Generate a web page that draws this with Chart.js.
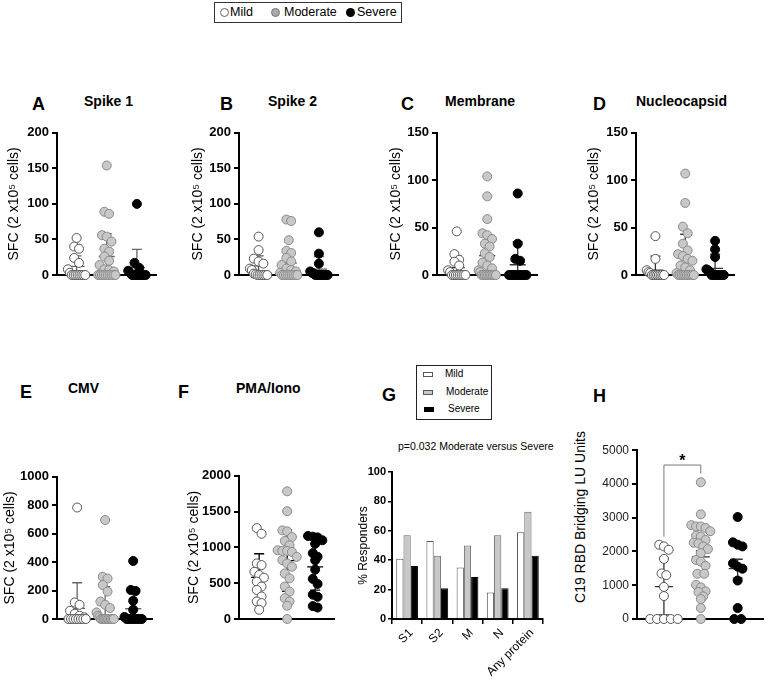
<!DOCTYPE html>
<html><head><meta charset="utf-8">
<script src="https://cdn.jsdelivr.net/npm/chart.js@4.4.1/dist/chart.umd.min.js"></script>
<style>
html,body{margin:0;padding:0;background:#fff;}
body{width:769px;height:683px;position:relative;overflow:hidden;font-family:"Liberation Sans",Arial,sans-serif;color:#000;}
canvas{position:absolute;}
.lt{position:absolute;font-weight:bold;font-size:18px;line-height:1;white-space:nowrap;}
.tt{position:absolute;font-weight:bold;font-size:14px;line-height:1;white-space:nowrap;}
.abs{position:absolute;white-space:nowrap;line-height:1;}
.dot{position:absolute;width:9px;height:9px;border-radius:50%;box-sizing:border-box;}
.sw{position:absolute;width:10px;height:5px;box-sizing:border-box;}
</style></head><body>

<div class="abs" style="left:214px;top:2px;width:188px;height:21px;border:1px solid #333;box-sizing:border-box;"></div>
<div class="dot" style="left:220px;top:8px;border:1px solid #666;background:#fff;"></div>
<div class="abs" style="left:230px;top:6px;font-size:12.5px;">Mild</div>
<div class="dot" style="left:271px;top:8px;border:1px solid #777;background:#a9a9a9;"></div>
<div class="abs" style="left:284px;top:6px;font-size:12.5px;">Moderate</div>
<div class="dot" style="left:346px;top:8px;background:#000;"></div>
<div class="abs" style="left:357px;top:6px;font-size:12.5px;">Severe</div>

<div class="lt" style="left:32px;top:95px;">A</div><div class="tt" style="left:84px;top:94px;">Spike 1</div>
<div class="lt" style="left:220px;top:95px;">B</div><div class="tt" style="left:268px;top:94px;">Spike 2</div>
<div class="lt" style="left:401px;top:95px;">C</div><div class="tt" style="left:445px;top:94px;">Membrane</div>
<div class="lt" style="left:593px;top:95px;">D</div><div class="tt" style="left:636px;top:94px;">Nucleocapsid</div>
<div class="lt" style="left:20px;top:383px;">E</div><div class="tt" style="left:68px;top:381px;">CMV</div>
<div class="lt" style="left:178px;top:383px;">F</div><div class="tt" style="left:236px;top:381px;">PMA/Iono</div>
<div class="lt" style="left:382px;top:386px;">G</div>
<div class="lt" style="left:593px;top:387px;">H</div>

<div class="abs" style="left:416px;top:365px;width:76px;height:55px;border:1px solid #222;box-sizing:border-box;"></div>
<div class="sw" style="left:423px;top:372px;border:1px solid #555;background:#fff;"></div>
<div class="abs" style="left:445px;top:369px;font-size:10px;">Mild</div>
<div class="sw" style="left:423px;top:390px;border:1px solid #555;background:#c8c8c8;"></div>
<div class="abs" style="left:446px;top:387px;font-size:10px;">Moderate</div>
<div class="sw" style="left:424px;top:407px;background:#000;"></div>
<div class="abs" style="left:448px;top:404px;font-size:10px;">Severe</div>
<div class="abs" style="left:398px;top:441px;font-size:10.5px;">p=0.032 Moderate versus Severe</div>

<div class="abs" style="left:573px;top:517px;font-size:14px;transform:translate(-50%,-50%) rotate(-90deg);transform-origin:center;margin-left:7px;">C19 RBD Bridging LU Units</div>

<script>
// ---------- DATA ----------
const groupNames = ['Mild', 'Moderate', 'Severe'];

// A  Spike 1
const spike1Mild = [52, 40, 37, 24, 17, 8, 3, 0, 0, 0, 0, 0, 0, 0, 0];
const spike1Moderate = [154, 89, 86, 56, 54, 47, 37, 33, 26, 20, 14, 8, 7, 5, 0, 0, 0, 0, 0, 0, 0, 0, 0, 0];
const spike1Severe = [100, 17, 10, 6, 3, 0, 0, 0, 0, 0, 0, 0, 0];
const spike1Mean = [12, 26, 10.5];
const spike1Hi = [27, 58, 36];
const spike1Lo = [0, 0, 0];

// B  Spike 2
const spike2Mild = [54, 35, 23, 19, 16, 9, 7, 2, 1, 0, 0, 0, 0, 0, 0];
const spike2Moderate = [78, 76, 49, 34, 31, 24, 19, 14, 9, 7, 5, 3, 0, 0, 0, 0, 0, 0, 0, 0, 0];
const spike2Severe = [60, 30, 16, 5, 3, 2, 0, 0, 0, 0, 0, 0, 0, 0];
const spike2Mean = [12.7, 16.6, 8.3];
const spike2Hi = [27, 35, 26];
const spike2Lo = [0, 0, 0];

// C  Membrane
const membraneMild = [46, 22, 16, 14, 10, 5, 3, 0, 0, 0, 0, 0, 0, 0, 0];
const membraneModerate = [104, 83, 59, 44, 42, 38, 33, 30, 23, 19, 13, 10, 7, 5, 3, 0, 0, 0, 0, 0, 0, 0, 0, 0, 0];
const membraneSevere = [86, 33, 17, 15, 0, 0, 0, 0, 0, 0, 0, 0, 0, 0];
const membraneMean = [7.7, 20.5, 10.8];
const membraneHi = [20, 42, 35];
const membraneLo = [0, 0, 0];

// D  Nucleocapsid
const nucleoMild = [41, 17, 5, 3, 2, 0, 0, 0, 0, 0, 0, 0, 0];
const nucleoModerate = [107, 76, 51, 44, 33, 26, 22, 20, 17, 15, 10, 8, 5, 2, 0, 0, 0, 0, 0, 0, 0, 0, 0, 0];
const nucleoSevere = [36, 27, 19, 6, 5, 3, 0, 0, 0, 0, 0, 0, 0, 0];
const nucleoMean = [5, 18, 7];
const nucleoHi = [20, 43, 22];
const nucleoLo = [0, 0, 0];

// E  CMV
const cmvMild = [784, 116, 100, 58, 37, 23, 12, 0, 0, 0, 0, 0, 0, 0, 0];
const cmvModerate = [696, 297, 285, 239, 193, 123, 100, 77, 46, 23, 12, 0, 0, 0, 0, 0, 0, 0, 0, 0, 0];
const cmvSevere = [408, 204, 197, 128, 65, 14, 0, 0, 0, 0, 0, 0, 0, 0];
const cmvMean = [75, 99, 72];
const cmvHi = [255, 227, 192];
const cmvLo = [0, 0, 0];

// F  PMA/Iono
const pmaMild = [1270, 1190, 776, 753, 660, 614, 577, 522, 453, 406, 314, 245, 222, 129];
const pmaModerate = [1783, 1506, 1238, 1224, 1145, 1090, 1030, 960, 951, 951, 937, 868, 822, 776, 730, 637, 568, 453, 383, 291, 245, 185, 0];
const pmaSevere = [1160, 1150, 1140, 1100, 1050, 920, 870, 820, 690, 560, 490, 340, 310, 180, 160];
const pmaMean = [581, 816, 729];
const pmaHi = [911, 1246, 1053];
const pmaLo = [251, 386, 404];

// G  % responders
const respLabels = ['S1', 'S2', 'M', 'N', 'Any protein'];
const respMild = [41, 53, 35, 18, 59];
const respModerate = [57, 43, 50, 57, 73];
const respSevere = [36, 21, 28.5, 21, 43];

// H  C19 RBD bridging
const rbdMild = [2200, 2150, 2050, 1780, 1350, 1300, 950, 680, 0, 0, 0, 0, 0];
const rbdModerate = [4050, 3100, 2780, 2740, 2740, 2700, 2600, 2470, 2440, 2340, 2260, 2240, 2150, 2070, 1950, 1750, 1700, 1575, 1340, 1340, 1010, 935, 820, 800, 670, 590, 325, 0];
const rbdSevere = [3020, 2270, 2200, 2150, 1650, 1550, 1490, 1140, 325, 0, 0];
const rbdMean = [958, 1839, 1490];
const rbdHi = [1800, 2020, 1770];
const rbdLo = [120, 1660, 1210];
const sigFrom = [1], sigTo = [2], sigTop = [4560], sigLeftEnd = [2440], sigRightEnd = [4310], sigText = ['*'];

// ---------- RENDERING ----------
Chart.defaults.font.family = '"Liberation Sans", Arial, sans-serif';
Chart.defaults.color = '#000';

function swarm(vals, pxPerY, pxPerX, r, maxW) {
  const order = vals.map((v, i) => i).sort((a, b) => vals[b] - vals[a]);
  const off = vals.map(() => 0);
  const clusters = [];
  let cur = [];
  for (const i of order) {
    if (cur.length && (vals[cur[0]] - vals[i]) * pxPerY > r * 1.5) { clusters.push(cur); cur = []; }
    cur.push(i);
  }
  if (cur.length) clusters.push(cur);
  for (const c of clusters) {
    const n = c.length;
    if (n < 2) continue;
    const spread = (vals[c[0]] - vals[c[n - 1]]) * pxPerY;
    const w = Math.min((n - 1) * r * (spread > 1 ? 1.1 : 1.6), maxW);
    c.forEach((i, k) => { off[i] = (-w / 2 + k * w / (n - 1)) / pxPerX; });
  }
  return off;
}

function mkCanvas(left, top, w, h) {
  const c = document.createElement('canvas');
  c.width = w; c.height = h;
  c.style.left = left + 'px'; c.style.top = top + 'px';
  c.style.width = w + 'px'; c.style.height = h + 'px';
  document.body.appendChild(c);
  return c;
}

const pointStyles = [
  {bg: '#ffffff', bd: '#555555'},
  {bg: '#c8c8c8', bd: '#8a8a8a'},
  {bg: '#000000', bd: '#000000'}
];

function errPlugin(mean, lo, hi, color, meanW, capW) {
  return {
    id: 'errbars',
    beforeDatasetsDraw(chart) {
      const {ctx, scales: {x, y}} = chart;
      ctx.save();
      ctx.strokeStyle = color; ctx.lineWidth = 1.3;
      for (let i = 0; i < mean.length; i++) {
        const px = x.getPixelForValue(i + 1);
        const pm = y.getPixelForValue(mean[i]);
        const ph = y.getPixelForValue(hi[i]);
        const pl = y.getPixelForValue(lo[i]);
        ctx.beginPath();
        ctx.moveTo(px, pl); ctx.lineTo(px, ph);
        ctx.moveTo(px - capW / 2, ph); ctx.lineTo(px + capW / 2, ph);
        if (lo[i] > 0) { ctx.moveTo(px - capW / 2, pl); ctx.lineTo(px + capW / 2, pl); }
        ctx.moveTo(px - meanW / 2, pm); ctx.lineTo(px + meanW / 2, pm);
        ctx.stroke();
      }
      ctx.restore();
    }
  };
}

const plainTick = v => String(v);

function dotPanel(cfg) {
  const cv = mkCanvas(cfg.left, cfg.top, cfg.w, cfg.h);
  const plotH = cfg.h - cfg.padTop - cfg.padBottom;
  const plotW = cfg.w - cfg.axisW - cfg.padRight;
  const pxPerY = plotH / cfg.yMax;
  const pxPerX = plotW / (cfg.xMax - cfg.xMin);
  const r = 4.5;
  const datasets = cfg.series.map((vals, g) => {
    const off = swarm(vals, pxPerY, pxPerX, r, cfg.maxW);
    return {
      label: groupNames[g],
      data: vals.map((v, i) => ({x: g + 1 + off[i], y: v})),
      pointRadius: r,
      pointBackgroundColor: pointStyles[g].bg,
      pointBorderColor: pointStyles[g].bd,
      pointBorderWidth: 1,
      clip: false
    };
  });
  const plugins = [errPlugin(cfg.mean, cfg.lo, cfg.hi, cfg.errColor, cfg.meanW || 16, cfg.capW || 10)];
  if (cfg.extra) plugins.push(cfg.extra);
  return new Chart(cv, {
    type: 'scatter',
    data: {datasets},
    plugins,
    options: {
      responsive: false, animation: false, devicePixelRatio: 1, events: [],
      layout: {padding: {top: cfg.padTop, right: cfg.padRight, bottom: cfg.padBottom, left: 0}},
      plugins: {legend: {display: false}, tooltip: {enabled: false}},
      scales: {
        x: {
          type: 'linear', min: cfg.xMin, max: cfg.xMax,
          ticks: {display: false},
          grid: {display: false},
          border: {display: true, color: '#000', width: 2},
          afterFit: s => { s.height = 0; }
        },
        y: {
          min: 0, max: cfg.yMax,
          ticks: {stepSize: cfg.step, font: cfg.tickFont, color: cfg.tickColor || '#000', padding: 3, callback: plainTick},
          grid: {display: true, drawOnChartArea: false, drawTicks: true, tickLength: 5, color: '#000', lineWidth: 2},
          border: {display: true, color: '#000', width: 2},
          title: cfg.yTitle ? {display: true, text: cfg.yTitle, font: {size: 14}, color: '#000', padding: {top: cfg.titlePad, bottom: 0}} : {display: false},
          afterFit: s => { s.width = cfg.axisW; }
        }
      }
    }
  });
}

const sfcTitle = 'SFC (2 x10\u2075 cells)';
const boldTick = {size: 13, weight: 'bold'};

dotPanel({left: 0, top: 122, w: 162, h: 165, axisW: 57, padTop: 10, padRight: 2, padBottom: 12,
  yMax: 200, step: 50, xMin: 0.35, xMax: 3.65, series: [spike1Mild, spike1Moderate, spike1Severe],
  mean: spike1Mean, hi: spike1Hi, lo: spike1Lo, errColor: '#666', maxW: 18,
  yTitle: sfcTitle, titlePad: 6, tickFont: boldTick});
dotPanel({left: 184, top: 122, w: 160, h: 165, axisW: 55, padTop: 10, padRight: 2, padBottom: 12,
  yMax: 200, step: 50, xMin: 0.35, xMax: 3.65, series: [spike2Mild, spike2Moderate, spike2Severe],
  mean: spike2Mean, hi: spike2Hi, lo: spike2Lo, errColor: '#555', maxW: 18,
  yTitle: sfcTitle, titlePad: 6, tickFont: boldTick});
dotPanel({left: 382, top: 122, w: 161, h: 165, axisW: 55, padTop: 10, padRight: 2, padBottom: 12,
  yMax: 150, step: 50, xMin: 0.35, xMax: 3.65, series: [membraneMild, membraneModerate, membraneSevere],
  mean: membraneMean, hi: membraneHi, lo: membraneLo, errColor: '#333', maxW: 18,
  yTitle: sfcTitle, titlePad: 6, tickFont: boldTick});
dotPanel({left: 580, top: 122, w: 160, h: 165, axisW: 56, padTop: 10, padRight: 2, padBottom: 12,
  yMax: 150, step: 50, xMin: 0.35, xMax: 3.65, series: [nucleoMild, nucleoModerate, nucleoSevere],
  mean: nucleoMean, hi: nucleoHi, lo: nucleoLo, errColor: '#333', maxW: 18,
  yTitle: sfcTitle, titlePad: 6, tickFont: boldTick});
dotPanel({left: 0, top: 466, w: 158, h: 165, axisW: 57, padTop: 10, padRight: 2, padBottom: 12,
  yMax: 1000, step: 200, xMin: 0.28, xMax: 3.69, series: [cmvMild, cmvModerate, cmvSevere],
  mean: cmvMean, hi: cmvHi, lo: cmvLo, errColor: '#666', maxW: 18,
  yTitle: sfcTitle, titlePad: 2, tickFont: boldTick});
dotPanel({left: 181, top: 465, w: 159, h: 166, axisW: 58, padTop: 10, padRight: 2, padBottom: 12,
  yMax: 2000, step: 500, xMin: 0.28, xMax: 3.69, series: [pmaMild, pmaModerate, pmaSevere],
  mean: pmaMean, hi: pmaHi, lo: pmaLo, errColor: '#000', maxW: 22,
  yTitle: sfcTitle, titlePad: 5, tickFont: boldTick});

// H with significance bracket
const bracketPlugin = {
  id: 'bracket',
  afterDatasetsDraw(chart) {
    const {ctx, scales: {x, y}} = chart;
    ctx.save();
    ctx.strokeStyle = '#777'; ctx.lineWidth = 1;
    for (let i = 0; i < sigFrom.length; i++) {
      const x1 = x.getPixelForValue(sigFrom[i]), x2 = x.getPixelForValue(sigTo[i]);
      const yt = y.getPixelForValue(sigTop[i]);
      ctx.beginPath();
      ctx.moveTo(x1, y.getPixelForValue(sigLeftEnd[i]));
      ctx.lineTo(x1, yt); ctx.lineTo(x2, yt);
      ctx.lineTo(x2, y.getPixelForValue(sigRightEnd[i]));
      ctx.stroke();
      ctx.fillStyle = '#000';
      ctx.font = 'bold 16px "Liberation Sans", Arial, sans-serif';
      ctx.textAlign = 'center'; ctx.textBaseline = 'alphabetic';
      ctx.fillText(sigText[i], (x1 + x2) / 2, yt + 1);
    }
    ctx.restore();
  }
};
dotPanel({left: 566, top: 440, w: 203, h: 191, axisW: 71, padTop: 10, padRight: 0, padBottom: 12,
  yMax: 5000, step: 1000, xMin: 0.27, xMax: 3.7, series: [rbdMild, rbdModerate, rbdSevere],
  mean: rbdMean, hi: rbdHi, lo: rbdLo, errColor: '#333', maxW: 30, meanW: 18,
  yTitle: null, titlePad: 0, tickFont: {size: 12}, tickColor: '#222', extra: bracketPlugin});

// G bar chart – rotated category labels drawn at the scale's tick positions
const rotatedLabels = {
  id: 'rotLabels',
  afterDraw(chart) {
    const {ctx, scales: {x}} = chart;
    const labels = chart.data.labels;
    ctx.save();
    ctx.fillStyle = '#000';
    ctx.font = '12px "Liberation Sans", Arial, sans-serif';
    ctx.textAlign = 'right'; ctx.textBaseline = 'middle';
    labels.forEach((lab, i) => {
      const px = x.getPixelForTick(i);
      ctx.save();
      ctx.translate(px + 4, x.top + 12);
      ctx.rotate(-Math.PI / 4);
      ctx.fillText(lab, 0, 0);
      ctx.restore();
    });
    ctx.restore();
  }
};
(function () {
  const cv = mkCanvas(349, 462, 195, 221);
  new Chart(cv, {
    type: 'bar',
    data: {
      labels: respLabels,
      datasets: [
        {label: 'Mild', data: respMild, backgroundColor: '#ffffff', borderColor: '#555', borderWidth: 1},
        {label: 'Moderate', data: respModerate, backgroundColor: '#c8c8c8', borderColor: '#666', borderWidth: 1},
        {label: 'Severe', data: respSevere, backgroundColor: '#000000', borderColor: '#000', borderWidth: 1}
      ]
    },
    plugins: [rotatedLabels],
    options: {
      responsive: false, animation: false, devicePixelRatio: 1, events: [],
      layout: {padding: {top: 10, right: 1, bottom: 4, left: 0}},
      datasets: {bar: {categoryPercentage: 0.72, barPercentage: 1}},
      plugins: {legend: {display: false}, tooltip: {enabled: false}},
      scales: {
        x: {
          grid: {display: true, drawOnChartArea: false, drawTicks: true, tickLength: 5, color: '#000', lineWidth: 1.5},
          border: {display: true, color: '#000', width: 2},
          ticks: {display: false},
          afterFit: s => { s.height = 60; }
        },
        y: {
          min: 0, max: 100,
          ticks: {stepSize: 20, font: {size: 11, weight: 'bold'}, color: '#000', padding: 2},
          grid: {display: true, drawOnChartArea: false, drawTicks: true, tickLength: 4, color: '#000', lineWidth: 1.5},
          border: {display: true, color: '#000', width: 2},
          title: {display: true, text: '% Responders', font: {size: 12}, color: '#000', padding: {top: 7, bottom: 0}},
          afterFit: s => { s.width = 43; }
        }
      }
    }
  });
})();
</script>
</body></html>
